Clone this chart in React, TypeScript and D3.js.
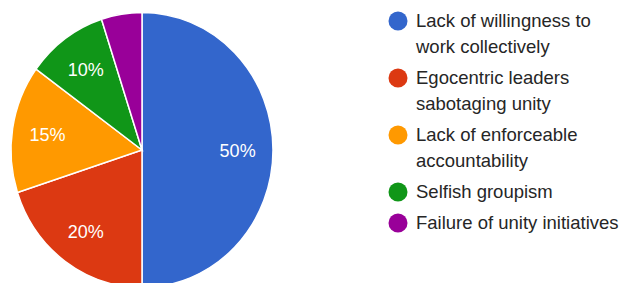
import { useEffect, useRef } from "react"
import * as d3 from "d3"

const categories = [
  "Lack of willingness to work collectively",
  "Egocentric leaders sabotaging unity",
  "Lack of enforceable accountability",
  "Selfish groupism",
  "Failure of unity initiatives",
]
const legendLines = [
  ["Lack of willingness to", "work collectively"],
  ["Egocentric leaders", "sabotaging unity"],
  ["Lack of enforceable", "accountability"],
  ["Selfish groupism"],
  ["Failure of unity initiatives"],
]
const values = [50, 20, 15, 10, 5]
const colors = ["#3366cc", "#dc3912", "#ff9900", "#109618", "#990099"]

export default function App() {
  const ref = useRef<SVGSVGElement>(null)

  useEffect(() => {
    const svg = d3.select(ref.current)
    svg.selectAll("*").remove()

    const width = 623, height = 283
    const cx = 142, cy = 150
    const rx = 131, sy = 1.05
    const font = "'Liberation Sans', Arial, sans-serif"

    const data = categories.map((c, i) => ({ name: c, value: values[i], color: colors[i] }))
    const pie = d3.pie<any>().sort(null).value((d) => d.value)
    const arcs = pie(data)
    const arc = d3.arc<any>().innerRadius(0).outerRadius(rx)
    const total = d3.sum(values)

    const g = svg.append("g")
      .attr("transform", `translate(${cx}, ${cy}) scale(1, ${sy})`)

    g.selectAll("path")
      .data(arcs)
      .join("path")
      .attr("d", arc)
      .attr("fill", (d) => d.data.color)
      .attr("stroke", "#fff")
      .attr("stroke-width", 1.5)
      .attr("vector-effect", "non-scaling-stroke")

    // percentage labels (small slice gets none, like google charts)
    const labelArc = d3.arc<any>().innerRadius(rx * 0.73).outerRadius(rx * 0.73)
    svg.append("g")
      .selectAll("text")
      .data(arcs.filter((d) => d.data.value / total >= 0.08))
      .join("text")
      .attr("x", (d) => cx + labelArc.centroid(d)[0])
      .attr("y", (d) => cy + labelArc.centroid(d)[1] * sy + 1)
      .attr("text-anchor", "middle")
      .attr("dominant-baseline", "central")
      .attr("fill", "#fff")
      .style("font-family", font)
      .style("font-size", "18px")
      .text((d) => Math.round((d.data.value / total) * 100) + "%")

    // legend
    const legend = svg.append("g").attr("transform", "translate(398, 0)")
    let y = 20
    legendLines.forEach((lines, i) => {
      const item = legend.append("g")
      item.append("circle")
        .attr("cx", 0)
        .attr("cy", y + 1)
        .attr("r", 9.5)
        .attr("fill", colors[i])
      lines.forEach((line, j) => {
        item.append("text")
          .attr("x", 18)
          .attr("y", y + j * 26)
          .attr("dominant-baseline", "central")
          .attr("fill", "#262626")
          .style("font-family", font)
          .style("font-size", "18.5px")
          .text(line)
      })
      y += lines.length * 26 + 5
    })

    svg.attr("width", width).attr("height", height)
  }, [])

  return (
    <svg
      ref={ref}
      width={623}
      height={283}
      style={{ position: "absolute", left: 0, top: 0, background: "#fff", display: "block" }}
    />
  )
}
